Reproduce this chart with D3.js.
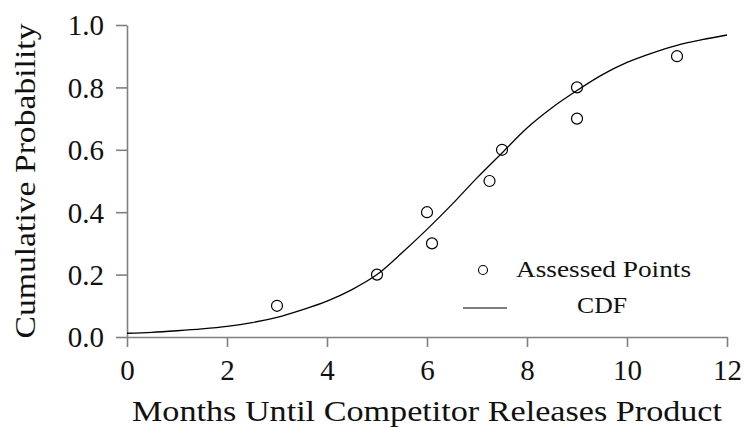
<!DOCTYPE html>
<html>
<head>
<meta charset="utf-8">
<script src="https://cdn.jsdelivr.net/npm/d3@7"></script>
<style>
  body { margin: 0; background: #fff; }
  svg text { font-family: "Liberation Serif", "DejaVu Serif", serif; fill: #111; }
</style>
</head>
<body>
<script>
// assessed points (months, cumulative probability)
const pointMonths = [3, 5, 6, 6.1, 7.25, 7.5, 9, 9, 11];
const pointProbs = [0.1, 0.2, 0.4, 0.3, 0.5, 0.6, 0.7, 0.8, 0.9];

// fitted CDF, every half month
const cdfMonths = [0, 0.5, 1, 1.5, 2, 2.5, 3, 3.5, 4, 4.5, 5, 5.5, 6, 6.5, 7, 7.5, 8, 8.5, 9, 9.5, 10, 10.5, 11, 11.5, 12];
const cdfProbs = [0.012, 0.015, 0.02, 0.026, 0.034, 0.046, 0.063, 0.087, 0.115, 0.152, 0.2, 0.27, 0.345, 0.425, 0.51, 0.59, 0.67, 0.735, 0.79, 0.84, 0.88, 0.91, 0.935, 0.953, 0.968];

const xTicks = [0, 2, 4, 6, 8, 10, 12];
const yTicks = [0, 0.2, 0.4, 0.6, 0.8, 1.0];

const width = 744;
const height = 428;
const margin = { top: 25, right: 17, bottom: 91, left: 127 };
const fontSize = 29;

const svg = d3.select('body')
  .append('svg')
  .attr('width', width)
  .attr('height', height);

const x = d3.scaleLinear()
  .domain([0, 12])
  .range([margin.left, width - margin.right]);

const y = d3.scaleLinear()
  .domain([0, 1])
  .range([height - margin.bottom, margin.top]);

// axes
const xAxis = svg.append('g')
  .attr('transform', `translate(0,${y(0)})`)
  .call(d3.axisBottom(x).tickValues(xTicks).tickSize(10).tickSizeOuter(0).tickFormat(d3.format('d')));

const yAxis = svg.append('g')
  .attr('transform', `translate(${x(0)},0)`)
  .call(d3.axisLeft(y).tickValues(yTicks).tickSize(11).tickSizeOuter(0).tickFormat(d3.format('.1f')));

[xAxis, yAxis].forEach((g) => {
  g.selectAll('path, line').attr('stroke', '#808080').attr('stroke-width', 1.6);
  g.selectAll('text').attr('font-size', fontSize).attr('fill', '#111');
});
xAxis.selectAll('text').attr('y', 43).attr('dy', 0);
yAxis.selectAll('text').attr('x', -23).attr('dy', '0.34em');

// axis titles (stretched a bit, the original face is wider)
svg.append('text')
  .attr('x', (x(0) + x(12)) / 2)
  .attr('y', 421)
  .attr('text-anchor', 'middle')
  .attr('font-size', fontSize)
  .attr('textLength', 590)
  .attr('lengthAdjust', 'spacingAndGlyphs')
  .text('Months Until Competitor Releases Product');

svg.append('text')
  .attr('transform', `translate(35,${(y(0) + y(1)) / 2}) rotate(-90)`)
  .attr('text-anchor', 'middle')
  .attr('font-size', fontSize)
  .attr('textLength', 315)
  .attr('lengthAdjust', 'spacingAndGlyphs')
  .text('Cumulative Probability');

// CDF line
const line = d3.line()
  .x((d, i) => x(cdfMonths[i]))
  .y((d) => y(d))
  .curve(d3.curveMonotoneX);

svg.append('path')
  .datum(cdfProbs)
  .attr('d', line)
  .attr('fill', 'none')
  .attr('stroke', '#000')
  .attr('stroke-width', 1.3);

// assessed points
svg.selectAll(null)
  .data(pointProbs)
  .join('circle')
  .attr('cx', (d, i) => x(pointMonths[i]))
  .attr('cy', (d) => y(d))
  .attr('r', 5.5)
  .attr('fill', 'none')
  .attr('stroke', '#000')
  .attr('stroke-width', 1.2);

// legend
const legend = svg.append('g');
legend.append('circle')
  .attr('cx', 483)
  .attr('cy', 270)
  .attr('r', 4.5)
  .attr('fill', 'none')
  .attr('stroke', '#000')
  .attr('stroke-width', 1.1);
legend.append('text')
  .attr('x', 516)
  .attr('y', 277)
  .attr('font-size', 24)
  .attr('textLength', 175)
  .attr('lengthAdjust', 'spacingAndGlyphs')
  .text('Assessed Points');
legend.append('line')
  .attr('x1', 463).attr('x2', 507)
  .attr('y1', 308).attr('y2', 308)
  .attr('stroke', '#000')
  .attr('stroke-width', 1.1);
legend.append('text')
  .attr('x', 577)
  .attr('y', 313)
  .attr('font-size', 24)
  .attr('textLength', 50)
  .attr('lengthAdjust', 'spacingAndGlyphs')
  .text('CDF');
</script>
</body>
</html>
